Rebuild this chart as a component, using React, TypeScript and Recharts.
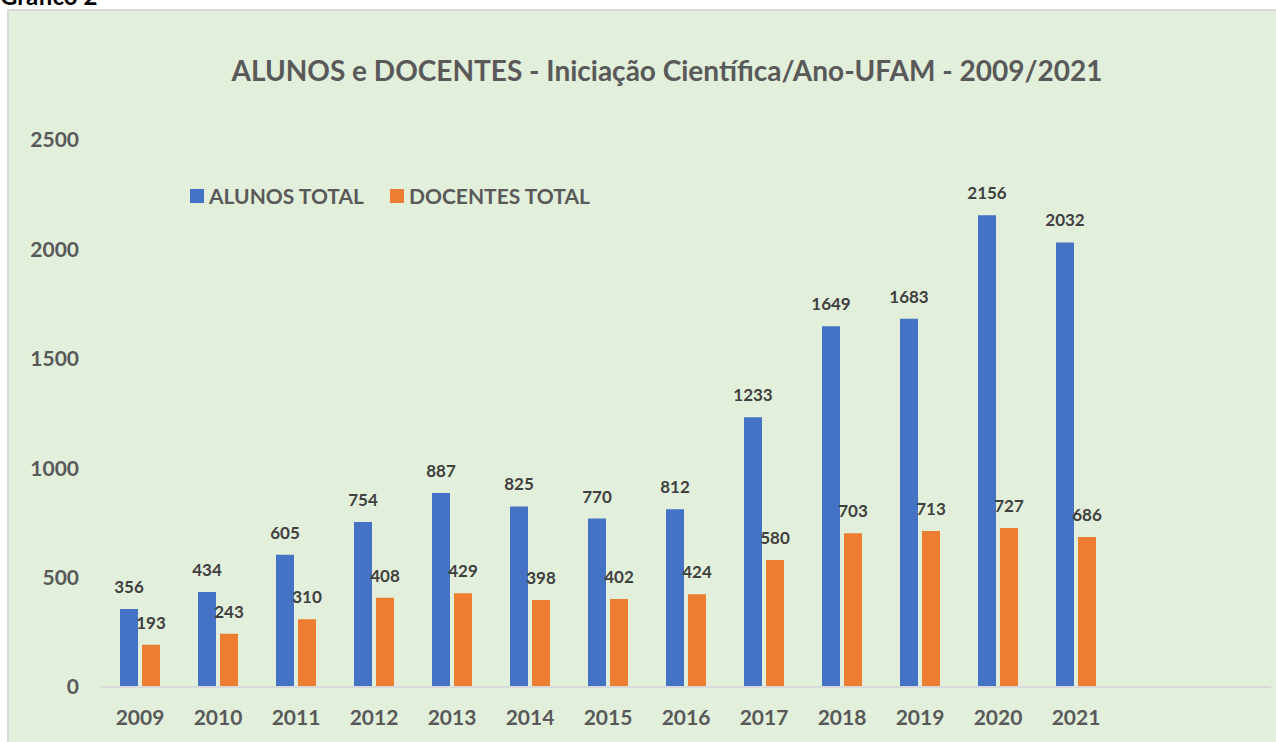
import React from 'react';
import { BarChart, Bar, XAxis, YAxis, LabelList } from 'recharts';

// values (Excel chart "Gráfico 2")
const years = ['2009', '2010', '2011', '2012', '2013', '2014', '2015', '2016', '2017', '2018', '2019', '2020', '2021'];
const alunosTotal = [356, 434, 605, 754, 887, 825, 770, 812, 1233, 1649, 1683, 2156, 2032];
const docentesTotal = [193, 243, 310, 408, 429, 398, 402, 424, 580, 703, 713, 727, 686];
// the original axis keeps two empty slots after 2021
const emptySlots = ['', ' '];
const yTicks = [0, 500, 1000, 1500, 2000, 2500];

const series = [
  { key: 'alunos', name: 'ALUNOS TOTAL', color: '#4472C4' },
  { key: 'docentes', name: 'DOCENTES TOTAL', color: '#ED7D31' },
];

const data = [
  ...years.map((year, i) => ({ year, alunos: alunosTotal[i], docentes: docentesTotal[i] })),
  ...emptySlots.map((year) => ({ year, alunos: null, docentes: null })),
];

const FONT = 'Lato, "Open Sans", sans-serif';
const TEXT = '#595959';

export default function App() {
  return (
    <div style={{ position: 'absolute', left: 0, top: 0, width: 1276, height: 742, overflow: 'hidden', background: '#fff' }}>
      <svg width={400} height={12} style={{ position: 'absolute', left: 0, top: 0 }}>
        <text x={0} y={5} fontFamily={FONT} fontWeight={700} fontSize={24} fill="#000">
          Gráfico 2
        </text>
      </svg>
      <div
        style={{
          position: 'absolute',
          left: 7,
          top: 9,
          width: 1290,
          height: 760,
          background: '#E2EFDA',
          border: '2px solid #D9D9D9',
          boxSizing: 'border-box',
        }}
      />
      <svg width={1276} height={230} style={{ position: 'absolute', left: 0, top: 0 }}>
        <text x={667} y={81} textAnchor="middle" fontFamily={FONT} fontWeight={700} fontSize={28} fill={TEXT}>
          ALUNOS e DOCENTES - Iniciação Científica/Ano-UFAM - 2009/2021
        </text>
        {series.map((s, i) => (
          <g key={s.key} transform={`translate(${190 + i * 200},189)`}>
            <rect x={0} y={0} width={14} height={14} fill={s.color} />
            <text x={19} y={14.5} fontFamily={FONT} fontWeight={700} fontSize={21} fill={TEXT}>
              {s.name}
            </text>
          </g>
        ))}
      </svg>
      <div style={{ position: 'absolute', left: 8, top: 10 }}>
        <BarChart
          width={1268}
          height={732}
          data={data}
          margin={{ top: 130, right: 5, bottom: 0, left: 0 }}
          barSize={18}
          barGap={4}
        >
          <XAxis
            dataKey="year"
            height={55}
            tickLine={false}
            axisLine={{ stroke: '#D9D9D9', strokeWidth: 2 }}
            tickMargin={17}
            tick={{ fill: TEXT, fontSize: 21, fontWeight: 700, fontFamily: FONT }}
            interval={0}
          />
          <YAxis
            width={93}
            domain={[0, 2500]}
            ticks={yTicks}
            axisLine={false}
            tickLine={false}
            tickMargin={16}
            tick={{ fill: TEXT, fontSize: 21, fontWeight: 700, fontFamily: FONT }}
          />
          {series.map((s) => (
            <Bar key={s.key} dataKey={s.key} name={s.name} fill={s.color} isAnimationActive={false}>
              <LabelList
                dataKey={s.key}
                position="top"
                offset={16}
                fill="#404040"
                fontSize={17}
                fontWeight={700}
                fontFamily={FONT}
              />
            </Bar>
          ))}
        </BarChart>
      </div>
    </div>
  );
}
